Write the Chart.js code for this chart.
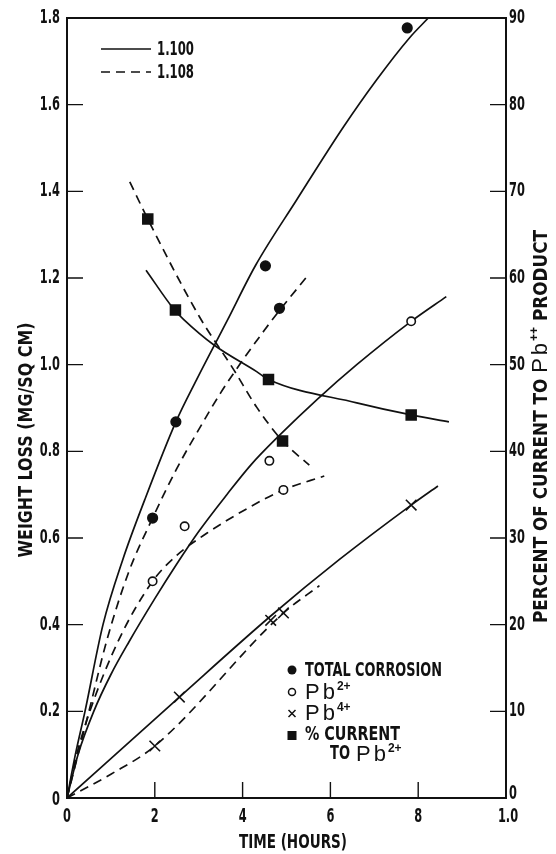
<!DOCTYPE html>
<html>
<head>
<meta charset="utf-8">
<script src="https://cdn.jsdelivr.net/npm/chart.js@4.4.1/dist/chart.umd.min.js"></script>
<style>
html, body { margin: 0; padding: 0; background: #fff; }
#wrap { width: 556px; height: 854px; }
</style>
</head>
<body>
<div id="wrap"><canvas id="myChart" width="556" height="854"></canvas></div>
<script>
// tick labels (the last x label really reads "1.0" on the original)
var xTickLabels = ['0', '2', '4', '6', '8', '1.0'];
var yTickLabels = ['0', '0.2', '0.4', '0.6', '0.8', '1.0', '1.2', '1.4', '1.6', '1.8'];
var y1TickLabels = ['0', '10', '20', '30', '40', '50', '60', '70', '80', '90'];

// drawn curves, [hours, value] ; 1.100 = solid, 1.108 = dashed
var total100 = [[0, 0], [0.19, 0.1], [0.41, 0.2], [0.82, 0.4], [1.27, 0.55], [1.77, 0.688], [2.48, 0.868], [2.95, 0.965], [3.64, 1.10], [4.3, 1.23], [5.23, 1.38], [6.3, 1.549], [7.05, 1.657], [7.8, 1.754], [8.23, 1.8]];
var total108 = [[0, 0], [0.25, 0.1], [0.5, 0.2], [0.91, 0.365], [1.4, 0.52], [1.95, 0.646], [2.5, 0.76], [3.0, 0.85], [3.5, 0.935], [4.0, 1.01], [4.5, 1.08], [4.84, 1.125], [5.52, 1.21]];
var pb2100 = [[0, 0], [0.25, 0.1], [0.61, 0.2], [1.0, 0.285], [1.41, 0.36], [2.0, 0.46], [2.5, 0.54], [3.0, 0.615], [3.64, 0.7], [4.2, 0.77], [4.82, 0.835], [5.7, 0.92], [6.6, 1.0], [7.84, 1.1], [8.64, 1.157]];
var pb2108 = [[0, 0], [0.22, 0.1], [0.52, 0.2], [1.18, 0.365], [1.95, 0.5], [2.5, 0.56], [3.2, 0.612], [4.14, 0.67], [4.93, 0.711], [5.86, 0.743]];
var pb4100 = [[0, 0], [2.56, 0.233], [4.64, 0.42], [6.2, 0.55], [7.84, 0.676], [8.45, 0.72]];
var pb4108 = [[0, 0], [1.0, 0.055], [2.0, 0.12], [4.93, 0.427], [5.75, 0.49]];
var current100 = [[1.8, 60.9], [2.45, 56.3], [2.66, 55.2], [3.34, 52.3], [4.32, 49.2], [4.59, 48.3], [6.6, 45.6], [7.84, 44.2], [8.7, 43.4]];
var current108 = [[1.43, 71.1], [1.84, 66.8], [3.02, 55.5], [3.8, 49.4], [4.32, 45.1], [4.91, 41.2], [5.52, 38.4]];

// measured points
var totalPts = [[1.95, 0.646], [2.48, 0.868], [4.52, 1.228], [4.84, 1.13], [7.75, 1.777]];
var pb2Pts = [[1.95, 0.5], [2.68, 0.627], [4.61, 0.778], [4.93, 0.711], [7.84, 1.10]];
var pb4Pts = [[2.0, 0.12], [2.56, 0.233], [4.64, 0.41], [4.93, 0.427], [7.84, 0.676]];
var currentPts = [[1.84, 66.8], [2.47, 56.3], [4.59, 48.3], [4.91, 41.2], [7.84, 44.2]];

var xTitle = 'TIME (HOURS)';
var yTitle = 'WEIGHT LOSS (MG/SQ CM)';
var y1Title = ['PERCENT OF CURRENT TO ', 'Pb', '++', ' PRODUCT'];
var lineLegend = ['1.100', '1.108'];
var markLegend = ['TOTAL CORROSION', 'Pb', 'Pb', '% CURRENT', 'TO'];

var ink = '#111';
var letters = "bold {s}px 'DejaVu Sans', sans-serif";
var sans = "'Liberation Sans', Arial, sans-serif";
var dash = [9, 6];

function toXY(arr) {
    return arr.map(function (p) { return { x: p[0], y: p[1] }; });
}

function curve(arr, dashed, axis) {
    return {
        data: toXY(arr),
        showLine: true,
        borderColor: ink,
        borderWidth: 1.7,
        borderDash: dashed ? dash : [],
        pointRadius: 0,
        cubicInterpolationMode: 'monotone',
        yAxisID: axis || 'y'
    };
}

function marks(arr, style, radius, fill, axis) {
    return {
        data: toXY(arr),
        showLine: false,
        pointStyle: style,
        pointRadius: radius,
        pointBorderWidth: 1.6,
        borderColor: ink,
        backgroundColor: fill,
        pointBackgroundColor: fill,
        yAxisID: axis || 'y'
    };
}

function font(size) {
    return letters.replace('{s}', size);
}

// squeezed text: the lettering of the original is very condensed
function squeeze(ctx, text, x, y, size, sx, align) {
    ctx.save();
    ctx.translate(x, y);
    ctx.scale(sx, 1);
    ctx.font = font(size);
    ctx.textAlign = align;
    ctx.fillText(text, 0, 0);
    ctx.restore();
}

function fitText(ctx, text, x, y, size, len, align) {
    ctx.font = font(size);
    squeeze(ctx, text, x, y, size, len / ctx.measureText(text).width, align);
}

// "Pb" with a raised charge, returns end x
function pbIon(ctx, x, y, sup) {
    ctx.save();
    ctx.textAlign = 'left';
    ctx.font = '22px ' + sans;
    ctx.fillText('P', x, y);
    x += ctx.measureText('P').width + 3;
    ctx.fillText('b', x, y);
    x += ctx.measureText('b').width + 2;
    ctx.font = 'bold 12px ' + sans;
    ctx.fillText(sup, x, y - 9);
    x += ctx.measureText(sup).width;
    ctx.restore();
    return x;
}

function pbWidth(ctx, sup) {
    ctx.font = '22px ' + sans;
    var w = ctx.measureText('P').width + ctx.measureText('b').width + 5;
    ctx.font = 'bold 12px ' + sans;
    return w + ctx.measureText(sup).width;
}

var paperPlugin = {
    id: 'paper',
    afterDraw: function (chart) {
        var ctx = chart.ctx, a = chart.chartArea;
        var sx = chart.scales.x, sy = chart.scales.y, sy1 = chart.scales.y1;
        var tickLen = 16;
        ctx.save();
        ctx.strokeStyle = ink;
        ctx.fillStyle = ink;
        ctx.lineWidth = 2;
        ctx.strokeRect(a.left, a.top, a.right - a.left, a.bottom - a.top);

        // inward ticks
        ctx.lineWidth = 1.4;
        ctx.beginPath();
        sx.ticks.forEach(function (t, i) {
            if (i == 0 || i == sx.ticks.length - 1) return;
            var px = sx.getPixelForValue(t.value);
            ctx.moveTo(px, a.bottom); ctx.lineTo(px, a.bottom - tickLen);
        });
        sy.ticks.forEach(function (t, i) {
            if (i == 0 || i == sy.ticks.length - 1) return;
            var py = sy.getPixelForValue(t.value);
            ctx.moveTo(a.left, py); ctx.lineTo(a.left + tickLen, py);
        });
        sy1.ticks.forEach(function (t, i) {
            if (i == 0 || i == sy1.ticks.length - 1) return;
            var py = sy1.getPixelForValue(t.value);
            ctx.moveTo(a.right, py); ctx.lineTo(a.right - tickLen, py);
        });
        ctx.stroke();

        // tick labels
        ctx.textBaseline = 'middle';
        sx.ticks.forEach(function (t, i) {
            var px = sx.getPixelForValue(t.value);
            squeeze(ctx, xTickLabels[i], px + (i == sx.ticks.length - 1 ? 2 : 0), a.bottom + 19, 19, 0.6, 'center');
        });
        sy.ticks.forEach(function (t, i) {
            var py = sy.getPixelForValue(t.value);
            squeeze(ctx, yTickLabels[i], a.left - 7, py + (i == 0 ? 2 : 0), 19, 0.6, 'right');
        });
        sy1.ticks.forEach(function (t, i) {
            var py = sy1.getPixelForValue(t.value);
            squeeze(ctx, y1TickLabels[i], a.right + 3, py - (i == 0 ? 4 : 0), 19, 0.6, 'left');
        });

        // axis titles
        fitText(ctx, xTitle, 293, 843, 20, 108, 'center');

        ctx.save();
        ctx.translate(27, 440);
        ctx.rotate(-Math.PI / 2);
        fitText(ctx, yTitle, 0, 0, 20, 235, 'center');
        ctx.restore();

        ctx.save();
        ctx.translate(540, 427);
        ctx.rotate(-Math.PI / 2);
        ctx.textBaseline = 'alphabetic';
        ctx.font = font(20);
        var w1 = ctx.measureText(y1Title[0]).width;
        var w3 = ctx.measureText(y1Title[3]).width;
        var pw = pbWidth(ctx, y1Title[2]);
        var k = (393 - pw) / (w1 + w3);
        var x = -196;
        squeeze(ctx, y1Title[0], x, 7, 20, k, 'left');
        x = pbIon(ctx, x + w1 * k, 7, y1Title[2]);
        squeeze(ctx, y1Title[3], x, 7, 20, k, 'left');
        ctx.restore();

        // line key, top left
        ctx.lineWidth = 1.7;
        [49, 72].forEach(function (y, i) {
            ctx.setLineDash(i ? dash : []);
            ctx.beginPath(); ctx.moveTo(101, y); ctx.lineTo(151, y); ctx.stroke();
            fitText(ctx, lineLegend[i], 157, y + 1, 19, 37, 'left');
        });
        ctx.setLineDash([]);

        // marker key, bottom right
        var mx = 292, tx = 305;
        ctx.beginPath(); ctx.arc(mx, 670, 4.5, 0, 2 * Math.PI); ctx.fill();
        fitText(ctx, markLegend[0], tx, 671, 20, 137, 'left');

        ctx.lineWidth = 1.5;
        ctx.beginPath(); ctx.arc(mx, 692, 3.5, 0, 2 * Math.PI); ctx.stroke();
        ctx.textBaseline = 'alphabetic';
        pbIon(ctx, tx, 699, '2+');

        ctx.beginPath();
        ctx.moveTo(mx - 3.5, 710); ctx.lineTo(mx + 3.5, 717);
        ctx.moveTo(mx + 3.5, 710); ctx.lineTo(mx - 3.5, 717);
        ctx.stroke();
        pbIon(ctx, tx, 720, '4+');

        ctx.fillRect(mx - 4.5, 731, 9, 9);
        ctx.textBaseline = 'middle';
        fitText(ctx, markLegend[3], tx, 735, 20, 95, 'left');
        fitText(ctx, markLegend[4], 330, 754, 20, 20, 'left');
        ctx.textBaseline = 'alphabetic';
        pbIon(ctx, 356, 761, '2+');
        ctx.restore();
    }
};

var context = document.getElementById('myChart').getContext('2d');
var myChart = new Chart(context, {
    type: 'scatter',
    data: {
        datasets: [
            marks(totalPts, 'circle', 4.8, ink),
            marks(pb2Pts, 'circle', 4.2, '#fff'),
            marks(pb4Pts, 'crossRot', 7.5, ink),
            marks(currentPts, 'rect', 7, ink, 'y1'),
            curve(total100, false),
            curve(total108, true),
            curve(pb2100, false),
            curve(pb2108, true),
            curve(pb4100, false),
            curve(pb4108, true),
            curve(current100, false, 'y1'),
            curve(current108, true, 'y1')
        ]
    },
    options: {
        responsive: false,
        animation: false,
        layout: { padding: { top: 18, left: 0, right: 0, bottom: 0 } },
        plugins: {
            legend: { display: false },
            tooltip: { enabled: false }
        },
        scales: {
            x: {
                type: 'linear',
                min: 0,
                max: 10,
                ticks: { stepSize: 2, display: false },
                grid: { display: false },
                border: { display: false },
                afterFit: function (s) { s.height = 56; }
            },
            y: {
                position: 'left',
                min: 0,
                max: 1.8,
                ticks: { stepSize: 0.2, display: false },
                grid: { display: false },
                border: { display: false },
                afterFit: function (s) { s.width = 67; }
            },
            y1: {
                position: 'right',
                min: 0,
                max: 90,
                ticks: { stepSize: 10, display: false },
                grid: { display: false },
                border: { display: false },
                afterFit: function (s) { s.width = 50; }
            }
        }
    },
    plugins: [paperPlugin]
});
</script>
</body>
</html>
